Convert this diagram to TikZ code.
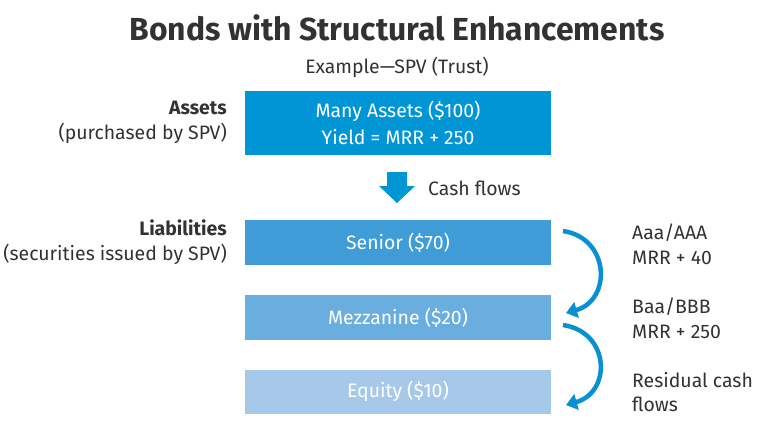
\documentclass[tikz,border=0pt]{standalone}
\usepackage{fontspec}
\setmainfont{Fira Sans}
\usetikzlibrary{arrows.meta}
\definecolor{assetblue}{RGB}{0,150,214}
\definecolor{seniorblue}{RGB}{64,156,215}
\definecolor{mezzblue}{RGB}{106,174,224}
\definecolor{equityblue}{RGB}{166,201,234}
\definecolor{arrowblue}{RGB}{8,144,210}
\definecolor{textgray}{RGB}{50,50,50}
\tikzset{
  box/.style={fill=#1, minimum width=306bp, text=white, inner sep=0pt, font=\fontsize{19.5}{27}\selectfont, align=center},
  lbl/.style={text=textgray, font=\fontsize{19.5}{25}\selectfont, inner sep=0pt},
  curv/.style={draw=arrowblue, line width=4.5bp, -{Triangle[length=11bp,width=16bp]}},
}
\begin{document}
\begin{tikzpicture}[x=1bp,y=-1bp]
\useasboundingbox (0,0) rectangle (775,424);
\node[lbl, font=\fontsize{32}{34}\selectfont\bfseries] (title) at (397,28) {Bonds with Structural Enhancements};
\node[lbl] (sub) at (397,67) {Example—SPV (Trust)};

\node[box=assetblue, minimum height=64bp] (assets) at (398,123) {Many Assets (\$100)\\Yield = MRR + 250};
\node[box=seniorblue, minimum height=45bp] (senior) at (398,242.5) {Senior (\$70)};
\node[box=mezzblue, minimum height=45bp] (mezz) at (398,317.5) {Mezzanine (\$20)};
\node[box=equityblue, minimum height=44bp] (equity) at (398,391.5) {Equity (\$10)};

\fill[assetblue] (387,172) -- (407,172) -- (407,186) -- (415,186) -- (397,203) -- (379,186) -- (387,186) -- cycle;
\node[lbl, anchor=west] (cf) at (428,188) {Cash flows};

\node[lbl, anchor=east, align=right] (assetlbl) at (227,122) {\textbf{Assets}\\(purchased by SPV)};
\node[lbl, anchor=east, align=right] (liablbl) at (227,242) {\textbf{Liabilities}\\(securities issued by SPV)};

\node[lbl, anchor=west, align=left] (r1) at (632,244) {Aaa/AAA\\MRR + 40};
\node[lbl, anchor=west, align=left] (r2) at (632,318) {Baa/BBB\\MRR + 250};
\node[lbl, anchor=west, align=left] (r3) at (632,392) {Residual cash\\flows};

\coordinate (s1) at (563,231);
\coordinate (e1) at (566,313);
\coordinate (s2) at (563,325);
\coordinate (e2) at (566,405);
\draw[curv] (s1) .. controls (610,238) and (612,300) .. (e1);
\draw[curv] (s2) .. controls (610,332) and (612,392) .. (e2);
\end{tikzpicture}
\end{document}
